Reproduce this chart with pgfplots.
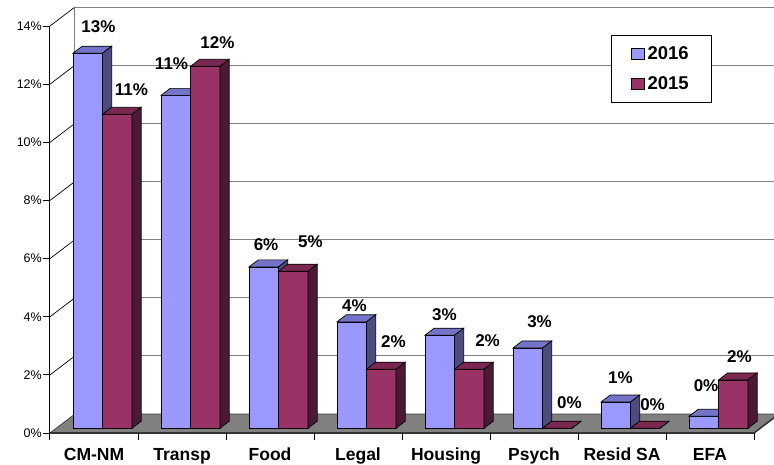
\documentclass[border=0pt]{standalone}
\usepackage{pgfplots}
\usepackage{pgfplotstable}
\pgfplotsset{compat=1.18}
\usepackage{fontspec}
\setmainfont{Liberation Sans}

\definecolor{c16f}{RGB}{153,153,255}
\definecolor{c16t}{RGB}{115,115,200}
\definecolor{c16s}{RGB}{76,76,128}
\definecolor{c15f}{RGB}{153,51,102}
\definecolor{c15t}{RGB}{122,40,82}
\definecolor{c15s}{RGB}{77,26,51}
\definecolor{floorgray}{RGB}{128,128,128}
\definecolor{gridgray}{RGB}{128,128,128}

% values in percent: 2016 and 2015
\pgfplotstableread{
i v16 v15
0 12.9 10.8
1 11.45 12.45
2 5.55 5.4
3 3.66 2.03
4 3.2 2.03
5 2.76 0
6 0.9 0
7 0.41 1.66
}\bardata

\newcommand{\lblfont}{\fontsize{17}{19}\selectfont\bfseries}
\newcommand{\legfont}{\fontsize{18.5}{20}\selectfont\bfseries}
\newcommand{\catfont}{\fontsize{17.5}{20}\selectfont\bfseries}
\newcommand{\tickfont}{\fontsize{12.5}{14}\selectfont}

\begin{document}
\begin{tikzpicture}
\path[use as bounding box] (-50pt,-31pt) rectangle (724pt,433pt);
\clip (-50pt,-31pt) rectangle (724pt,433pt);
\begin{axis}[
  at={(0pt,0pt)}, anchor=origin,
  x={(88pt,0pt)}, y={(25pt,19pt)}, z={(0pt,29.07pt)},
  xmin=0, xmax=8, ymin=0, ymax=1, zmin=0, zmax=14,
  hide axis, clip=false,
  legend image code/.code={\draw[#1,draw=black,line width=0.6pt] (0pt,-5.5pt) rectangle (13pt,5.5pt);},
  legend style={at={(axis cs:6.375,0,13.69)}, anchor=north west,
    draw=black, fill=white, line width=0.8pt, font=\legfont,
    inner xsep=19.5pt, inner ysep=8pt, row sep=10pt,
    nodes={inner sep=3pt}},
  legend cell align=left,
]
\addlegendimage{fill=c16f}
\addlegendentry{2016}
\addlegendimage{fill=c15f}
\addlegendentry{2015}

% back wall gridlines and left wall lines
\pgfplotsinvokeforeach{2,4,6,8,10,12,14}{
  \addplot3[forget plot, gridgray, line width=1pt] coordinates {(0,1,#1) (8,1,#1)};
  \addplot3[forget plot, black, line width=0.7pt] coordinates {(0,0,#1) (0,1,#1)};
}
\addplot3[forget plot, gridgray, line width=1pt] coordinates {(0,1,0) (0,1,14)};
\addplot3[forget plot, gridgray, line width=1pt] coordinates {(8,1,0) (8,1,14)};

% floor
\addplot3[forget plot, fill=floorgray, draw=black!75, line width=0.8pt] coordinates {(0,0,0) (8,0,0) (8,1,0) (0,1,0)} -- cycle;
\addplot3[forget plot, draw=black!80, line width=2.5pt] coordinates {(0,0,0) (8,0,0)};
\addplot3[forget plot, draw=black!80, line width=1.5pt] coordinates {(8,0,0) (8,1,0)};

% vertical axis line and ticks
\addplot3[forget plot, black, line width=1pt] coordinates {(0,0,0) (0,0,14)};
\pgfplotsinvokeforeach{0,2,4,6,8,10,12,14}{
  \draw[black, line width=0.8pt] (axis cs:0,0,#1) -- ++(-7pt,0pt);
  \node[anchor=east, inner sep=0pt, xshift=-8pt, font=\tickfont] at (axis cs:0,0,#1) {#1\%};
}
\pgfplotsinvokeforeach{0,1,2,3,4,5,6,7,8}{
  \draw[black, line width=1pt] (axis cs:#1,0,0) -- ++(0pt,-7pt);
}

% bars
\pgfplotsforeachungrouped \i in {0,...,7}{%
  \pgfplotstablegetelem{\i}{v16}\of\bardata \let\va\pgfplotsretval
  \pgfplotstablegetelem{\i}{v15}\of\bardata \let\vb\pgfplotsretval
  \pgfmathsetmacro\xa{\i+0.19}%
  \pgfmathsetmacro\xb{\i+0.525}%
  \pgfmathsetmacro\xc{\i+0.86}%
  \edef\cmd{%
    \noexpand\addplot3[forget plot, fill=c16f, draw=black, line width=0.7pt] coordinates {(\xa,0.25,0) (\xb,0.25,0) (\xb,0.25,\va) (\xa,0.25,\va)} -- cycle;
    \noexpand\addplot3[forget plot, fill=c16t, draw=black, line width=0.7pt] coordinates {(\xa,0.25,\va) (\xb,0.25,\va) (\xb,0.62,\va) (\xa,0.62,\va)} -- cycle;
    \noexpand\addplot3[forget plot, fill=c16s, draw=black, line width=0.7pt] coordinates {(\xb,0.25,0) (\xb,0.62,0) (\xb,0.62,\va) (\xb,0.25,\va)} -- cycle;
    \noexpand\addplot3[forget plot, fill=c15f, draw=black, line width=0.7pt] coordinates {(\xb,0.25,0) (\xc,0.25,0) (\xc,0.25,\vb) (\xb,0.25,\vb)} -- cycle;
    \noexpand\addplot3[forget plot, fill=c15t, draw=black, line width=0.7pt] coordinates {(\xb,0.25,\vb) (\xc,0.25,\vb) (\xc,0.62,\vb) (\xb,0.62,\vb)} -- cycle;
    \noexpand\addplot3[forget plot, fill=c15s, draw=black, line width=0.7pt] coordinates {(\xc,0.25,0) (\xc,0.62,0) (\xc,0.62,\vb) (\xc,0.25,\vb)} -- cycle;
  }\cmd
}

% data labels
\tikzset{lbl/.style={anchor=center, inner sep=0pt, font=\lblfont}}
\node[lbl] at (axis cs:0.551,0,13.97) {13\%};
\node[lbl] at (axis cs:1.381,0,12.69) {11\%};
\node[lbl] at (axis cs:2.455,0,6.48) {6\%};
\node[lbl] at (axis cs:3.460,0,4.39) {4\%};
\node[lbl] at (axis cs:4.483,0,4.08) {3\%};
\node[lbl] at (axis cs:5.563,0,3.82) {3\%};
\node[lbl] at (axis cs:6.483,0,1.91) {1\%};
\node[lbl] at (axis cs:7.455,0,1.62) {0\%};
\node[lbl] at (axis cs:0.926,0,11.82) {11\%};
\node[lbl] at (axis cs:1.903,0,13.43) {12\%};
\node[lbl] at (axis cs:2.960,0,6.57) {5\%};
\node[lbl] at (axis cs:3.903,0,3.13) {2\%};
\node[lbl] at (axis cs:4.972,0,3.18) {2\%};
\node[lbl] at (axis cs:5.903,0,1.03) {0\%};
\node[lbl] at (axis cs:6.847,0,0.96) {0\%};
\node[lbl] at (axis cs:7.835,0,2.61) {2\%};

% category labels
\tikzset{cat/.style={anchor=base, inner sep=0pt, yshift=-27pt, font=\catfont}}
\node[cat] at (axis cs:0.5,0,0) {CM-NM};
\node[cat] at (axis cs:1.5,0,0) {Transp};
\node[cat] at (axis cs:2.5,0,0) {Food};
\node[cat] at (axis cs:3.5,0,0) {Legal};
\node[cat] at (axis cs:4.5,0,0) {Housing};
\node[cat] at (axis cs:5.5,0,0) {Psych};
\node[cat] at (axis cs:6.5,0,0) {Resid SA};
\node[cat] at (axis cs:7.5,0,0) {EFA};
\end{axis}
\end{tikzpicture}
\end{document}
